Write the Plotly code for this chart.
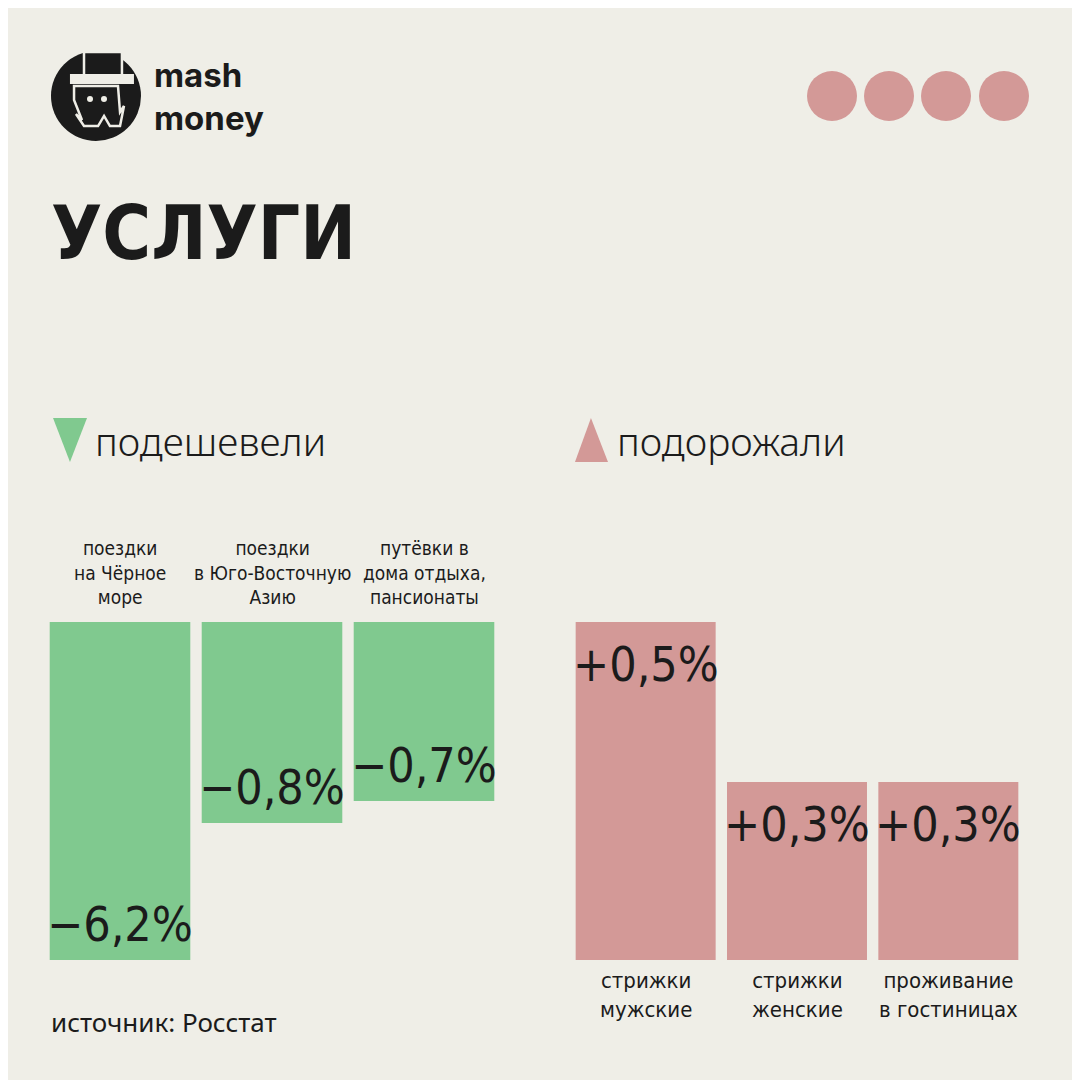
import plotly.graph_objects as go

# --- data ---
down_labels = ["поездки<br>на Чёрное<br>море",
               "поездки<br>в Юго-Восточную<br>Азию",
               "путёвки в<br>дома отдыха,<br>пансионаты"]
down_values = [-6.2, -0.8, -0.7]
down_text = ["−6,2%", "−0,8%", "−0,7%"]
# bar lengths as drawn (the picture is not to scale)
down_length = [-3.38, -2.01, -1.79]

up_labels = ["стрижки<br>мужские", "стрижки<br>женские", "проживание<br>в гостиницах"]
up_values = [0.5, 0.3, 0.3]
up_text = ["+0,5%", "+0,3%", "+0,3%"]
up_length = [3.38, 1.78, 1.78]

BG = "#efeee7"
GREEN = "#80c98f"
PINK = "#d39997"
INK = "#1b1b1b"
NARROW = "Liberation Sans Narrow, DejaVu Sans Condensed, sans-serif"
ROUND = "Noto Sans, Open Sans, sans-serif"
OFF = 8          # page body margin
W = H = 1080 - OFF


def px(x):
    return (x - OFF) / W


def py(y):
    return 1 - (y - OFF) / H


fig = go.Figure()

fig.add_trace(go.Bar(x=down_labels, y=down_length, base=0, marker_color=GREEN,
                     marker_line_width=0, xaxis="x", yaxis="y",
                     customdata=down_values, hoverinfo="skip"))
fig.add_trace(go.Bar(x=up_labels, y=up_length, base=0, marker_color=PINK,
                     marker_line_width=0, xaxis="x2", yaxis="y2",
                     customdata=up_values, hoverinfo="skip"))

annotations = []
# value labels inside bars, category labels outside
for lab, ln, t in zip(down_labels, down_length, down_text):
    annotations.append(dict(x=lab, y=ln, xref="x", yref="y", text=t, showarrow=False,
                            xanchor="center", yanchor="bottom", yshift=6,
                            font=dict(family=NARROW, size=48, color=INK)))
    annotations.append(dict(x=lab, y=0, xref="x", yref="y", text=lab, showarrow=False,
                            xanchor="center", yanchor="bottom", yshift=12,
                            font=dict(family=NARROW, size=19, color=INK)))
for lab, ln, t in zip(up_labels, up_length, up_text):
    annotations.append(dict(x=lab, y=ln, xref="x2", yref="y2", text=t, showarrow=False,
                            xanchor="center", yanchor="top", yshift=-12,
                            font=dict(family=NARROW, size=48, color=INK)))
    annotations.append(dict(x=lab, y=0, xref="x2", yref="y2", text=lab, showarrow=False,
                            xanchor="center", yanchor="top", yshift=-6,
                            font=dict(family=NARROW, size=22, color=INK)))

# titles and legends
annotations += [
    dict(x=px(49), y=py(233), xref="paper", yref="paper", text="<b>УСЛУГИ</b>",
         showarrow=False, xanchor="left", yanchor="middle",
         font=dict(family=NARROW, size=74, color=INK)),
    dict(x=px(152), y=py(96), xref="paper", yref="paper", text="<b>mash<br>money</b>",
         showarrow=False, xanchor="left", yanchor="middle", align="left",
         font=dict(family="Inter, Noto Sans, sans-serif", size=33, color=INK)),
    dict(x=px(93), y=py(440), xref="paper", yref="paper", text="подешевели",
         showarrow=False, xanchor="left", yanchor="middle",
         font=dict(family=ROUND, size=39, color=INK, weight=300)),
    dict(x=px(615), y=py(440), xref="paper", yref="paper", text="подорожали",
         showarrow=False, xanchor="left", yanchor="middle",
         font=dict(family=ROUND, size=39, color=INK, weight=300)),
    dict(x=px(49), y=py(1022), xref="paper", yref="paper", text="источник: Росстат",
         showarrow=False, xanchor="left", yanchor="middle",
         font=dict(family=ROUND, size=26, color=INK)),
]


def path(points, fill, line=None, lw=0):
    d = "M " + " L ".join(f"{px(x):.4f},{py(y):.4f}" for x, y in points) + " Z"
    return dict(type="path", xref="paper", yref="paper", path=d, fillcolor=fill,
                line=dict(color=line or fill, width=lw), layer="above")


def circle(cx, cy, r, fill):
    return dict(type="circle", xref="paper", yref="paper",
                x0=px(cx - r), x1=px(cx + r), y0=py(cy + r), y1=py(cy - r),
                fillcolor=fill, line=dict(width=0), layer="above")


shapes = [
    # legend triangles
    path([(53, 418), (87, 418), (70, 462)], GREEN),
    path([(575, 462), (608, 462), (591, 418)], PINK),
]
# decorative dots
for cx in [832, 889, 946, 1004]:
    shapes.append(circle(cx, 96, 25, PINK))

# logo
shapes.append(circle(96, 96, 45, INK))
shapes.append(path([(84, 52), (122, 52), (122, 76), (84, 76)], INK, BG, 2.5))
shapes.append(path([(70, 74), (134, 74), (134, 84), (70, 84)], BG))
shapes.append(path([(74, 86), (118, 86), (120, 112), (124, 106), (120, 126), (110, 126),
                    (104, 116), (98, 126), (84, 126), (76, 114), (82, 120), (74, 100)],
                   INK, BG, 2.5))
shapes.append(circle(90, 99, 3, BG))
shapes.append(circle(104, 99, 3, BG))

fig.update_layout(
    width=W, height=H,
    margin=dict(l=0, r=0, t=0, b=0),
    paper_bgcolor=BG, plot_bgcolor="rgba(0,0,0,0)",
    showlegend=False,
    bargap=0.075,
    xaxis=dict(domain=[px(44), px(500)], range=[-0.5, 2.5], visible=False,
               anchor="y", fixedrange=True),
    xaxis2=dict(domain=[px(570), px(1024)], range=[-0.5, 2.5], visible=False,
                anchor="y2", fixedrange=True),
    yaxis=dict(domain=[py(960), py(622)], range=[-3.38, 0], visible=False, anchor="x"),
    yaxis2=dict(domain=[py(960), py(622)], range=[0, 3.38], visible=False, anchor="x2"),
    annotations=annotations,
    shapes=shapes,
)

fig.write_html("out.html")
